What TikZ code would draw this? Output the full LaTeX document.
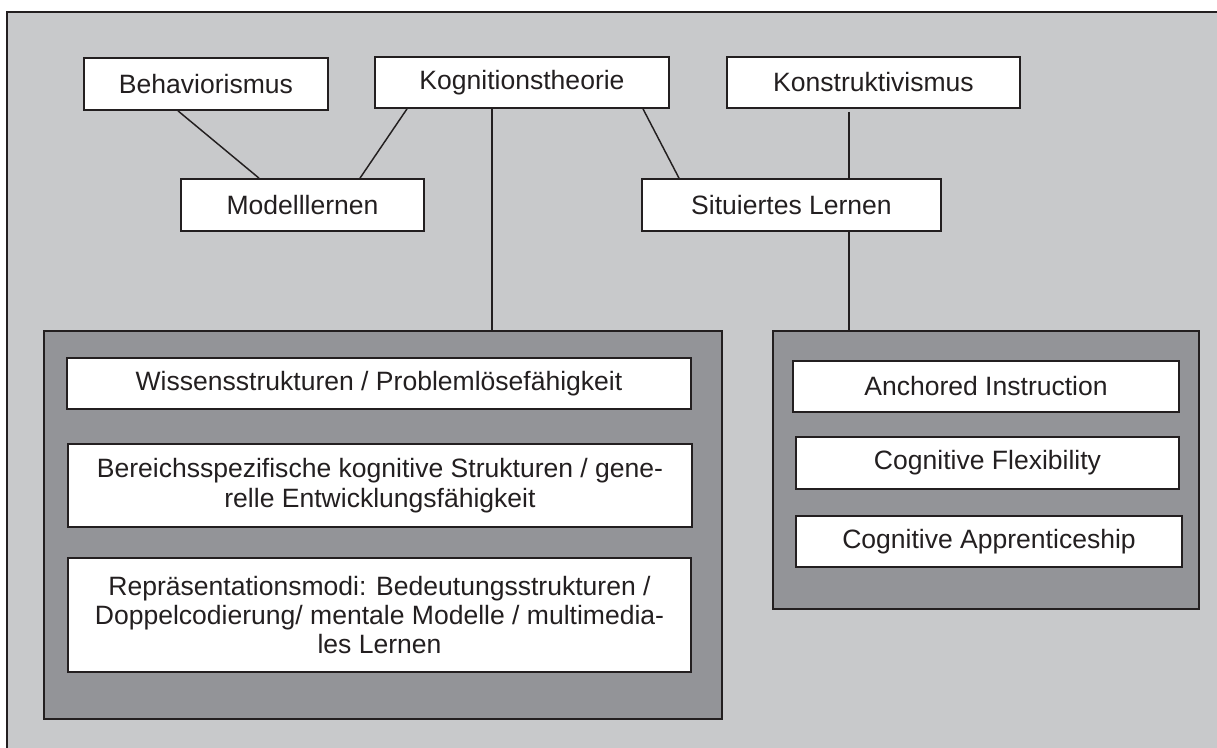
\documentclass[tikz,border=0pt]{standalone}
\usepackage{fontspec}
\setmainfont{Liberation Sans}
\usetikzlibrary{calc}
\definecolor{bglight}{HTML}{C8C9CB}
\definecolor{paneldark}{HTML}{939498}
\definecolor{ink}{HTML}{231F20}
\tikzset{
  bx/.style 2 args={draw=ink, line width=1.3pt, fill=white, inner sep=0pt,
    minimum width=#1*0.75pt, minimum height=#2*0.75pt, align=center,
    text=ink, font=\fontsize{19.9pt}{22.1pt}\selectfont},
  panel/.style 2 args={draw=ink, line width=1.4pt, fill=paneldark, inner sep=0pt,
    minimum width=#1*0.75pt, minimum height=#2*0.75pt},
  link/.style={draw=ink, line width=1.1pt}
}
\begin{document}
\begin{tikzpicture}[x=0.75pt,y=-0.75pt]
\useasboundingbox (0,0) rectangle (1217,747);
\clip (0,0) rectangle (1217,747);
\draw[draw=ink, line width=1.5pt, fill=bglight] (7,12) rectangle (1240,770);

% top level
\node[bx={244}{52}] (beh) at (206,84) {Behaviorismus};
\node[bx={294}{51}] (kog) at (522,82.5) {Kognitionstheorie};
\node[bx={293}{51}] (kon) at (873.5,82.5) {Konstruktivismus};
\node[bx={243}{52}] (mod) at (302.5,205) {Modelllernen};
\node[bx={299}{52}] (sit) at (791.5,205) {Situiertes Lernen};

% panels
\node[panel={678}{388}] (lp) at (383,525) {};
\node[panel={426}{278}] (rp) at (986,470) {};

\node[bx={624}{51}] (wis) at (379,383.5) {Wissensstrukturen / Problemlösefähigkeit};
\node[bx={624}{83}] (ber) at (380,485.5) {Bereichsspezifische kognitive Strukturen / gene-\\relle Entwicklungsfähigkeit};
\node[bx={623}{114}] (rep) at (379.5,615) {Repräsentationsmodi: Bedeutungsstrukturen /\\Doppelcodierung/ mentale Modelle / multimedia-\\les Lernen};

\node[bx={386}{51}] (anc) at (986,386.5) {Anchored Instruction};
\node[bx={383}{52}] (flx) at (987.5,463) {Cognitive Flexibility};
\node[bx={386}{51}] (app) at (989,541.5) {Cognitive Apprenticeship};

% connectors
\draw[link] ($(beh.south)+(-28,0)$) -- ($(mod.north)+(-43.5,0)$);
\draw[link] ($(kog.south)+(-115,0)$) -- ($(mod.north)+(57.5,0)$);
\coordinate (k1) at ($(kog.south)+(-30,0)$);
\draw[link] (k1) -- (k1 |- lp.north);
\draw[link] ($(kog.south)+(121,0)$) -- ($(sit.north)+(-112.5,0)$);
\coordinate (c1) at ($(kon.south)+(-24.5,3)$);
\draw[link] (c1) -- (c1 |- sit.north);
\draw[link] (c1 |- sit.south) -- (c1 |- rp.north);
\end{tikzpicture}
\end{document}
